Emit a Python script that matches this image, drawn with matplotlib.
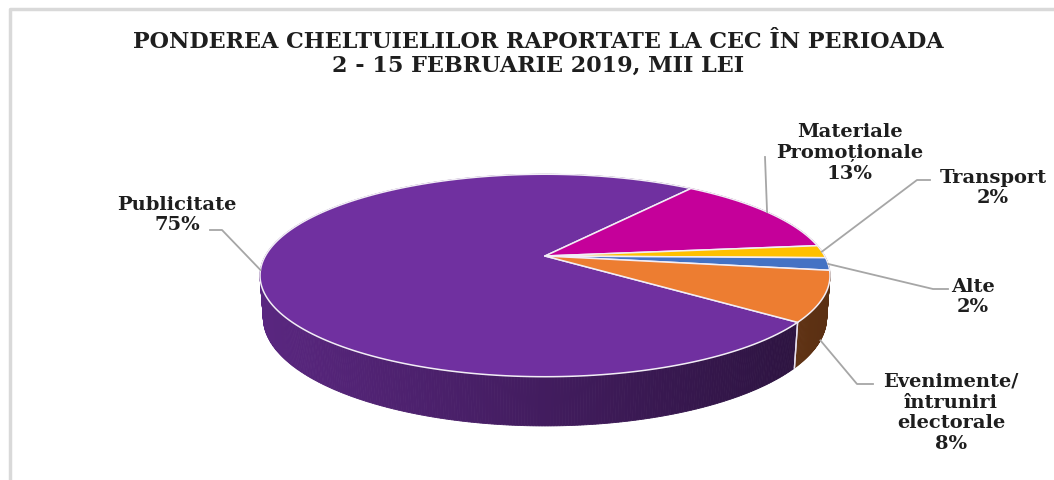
import matplotlib
matplotlib.use("Agg")
import matplotlib.pyplot as plt
import numpy as np
from matplotlib.patches import Polygon

# data (shares, %)
labels = ["Publicitate", "Materiale\nPromoționale", "Transport", "Alte",
          "Evenimente/\nîntruniri\nelectorale"]
values = [75, 13, 2, 2, 8]
colors = ["#7030a0", "#c5009a", "#ffc000", "#4472c4", "#ed7d31"]

title = "PONDEREA CHELTUIELILOR RAPORTATE LA CEC ÎN PERIOADA\n2 - 15 FEBRUARIE 2019, MII LEI"

# fake 3d projection (pixel space)
cx, cy = 545, 257
f_len, k_dist = 1362.0, 4.87
phi = np.radians(20.4)
s_, c_ = np.sin(phi), np.cos(phi)
depth = 0.159
start = -37.0  # first slice starts here, goes clockwise


def proj(theta_deg, z=0.0):
    t = np.radians(theta_deg)
    X, Y = np.cos(t), np.sin(t)
    w = k_dist + Y * c_ - z * s_
    x = cx + f_len * X / w
    y = cy - f_len * (Y * s_ + z * c_) / w
    return x, y


fig = plt.figure(figsize=(10.54, 4.81), dpi=100)
ax = fig.add_axes([0, 0, 1, 1])
ax.set_xlim(0, 1054)
ax.set_ylim(481, 0)
ax.axis("off")

# frame
ax.plot([10, 10, 1054], [481, 10, 10], color="#d9d9d9", lw=2.5, zorder=1)

total = float(sum(values))
bounds = [start]
for v in values:
    bounds.append(bounds[-1] - v / total * 360.0)

# side wall, small segments, far first
segs = []
for i in range(len(values)):
    a0, a1 = bounds[i], bounds[i + 1]
    n = max(int(abs(a0 - a1) / 0.5), 2)
    th = np.linspace(a0, a1, n + 1)
    for j in range(n):
        segs.append((th[j], th[j + 1], colors[i]))
segs.sort(key=lambda s: -np.sin(np.radians((s[0] + s[1]) / 2)))

xl, xr = cx - 285, cx + 285
for t0, t1, col in segs:
    xa, ya = proj(t0)
    xb, yb = proj(t1)
    xc, yc = proj(t1, -depth)
    xd, yd = proj(t0, -depth)
    fac = 0.80 - 0.42 * np.clip(((xa + xb) / 2 - xl) / (xr - xl), 0, 1)
    rgb = np.array(matplotlib.colors.to_rgb(col)) * fac
    ax.add_patch(Polygon([[xa, ya], [xb, yb], [xc, yc], [xd, yd]],
                         facecolor=rgb, edgecolor=rgb, lw=0.6, zorder=2))

# white edges on front wall at slice boundaries
for b in bounds:
    if np.sin(np.radians(b)) < -0.15:
        x0, y0 = proj(b)
        x1, y1 = proj(b, -depth)
        ax.plot([x0, x1], [y0, y1], color="#e8e0ee", lw=1, zorder=3)

# top faces
for i in range(len(values)):
    th = np.linspace(bounds[i], bounds[i + 1], 200)
    xs, ys = proj(th)
    pts = np.column_stack([np.r_[cx, xs], np.r_[cy, ys]])
    ax.add_patch(Polygon(pts, facecolor=colors[i], edgecolor="#f2eef6",
                         lw=1.1, zorder=4, joinstyle="round"))

# labels
font = dict(family="DejaVu Serif", weight="bold", color="#1e1e1e",
            fontsize=14, ha="center", va="center", linespacing=1.2)
pcts = ["%d%%" % round(v / total * 100) for v in values]
lab_pos = [(177, 215), (850, 153), (993, 188), (973, 297), (951, 413)]
elbows = [[(222, 231), (210, 231)], [(765, 158)], [(917, 181), (930, 181)],
          [(933, 290), (948, 290)], [(857, 385), (873, 385)]]
anchor_z = [0, 0, 0, 0, -depth]

for i in range(len(values)):
    mid = (bounds[i] + bounds[i + 1]) / 2
    ax_, ay_ = proj(mid, anchor_z[i])
    px = [ax_] + [p[0] for p in elbows[i]]
    py = [ay_] + [p[1] for p in elbows[i]]
    ax.plot(px, py, color="#a6a6a6", lw=1.3, zorder=5)
    ax.text(lab_pos[i][0], lab_pos[i][1], labels[i] + "\n" + pcts[i], **font)

ax.text(538, 54, title, ha="center", va="center", fontsize=16,
        family="DejaVu Serif", weight="bold", color="#1e1e1e", linespacing=1.15)

fig.savefig("out.png", dpi=100)
